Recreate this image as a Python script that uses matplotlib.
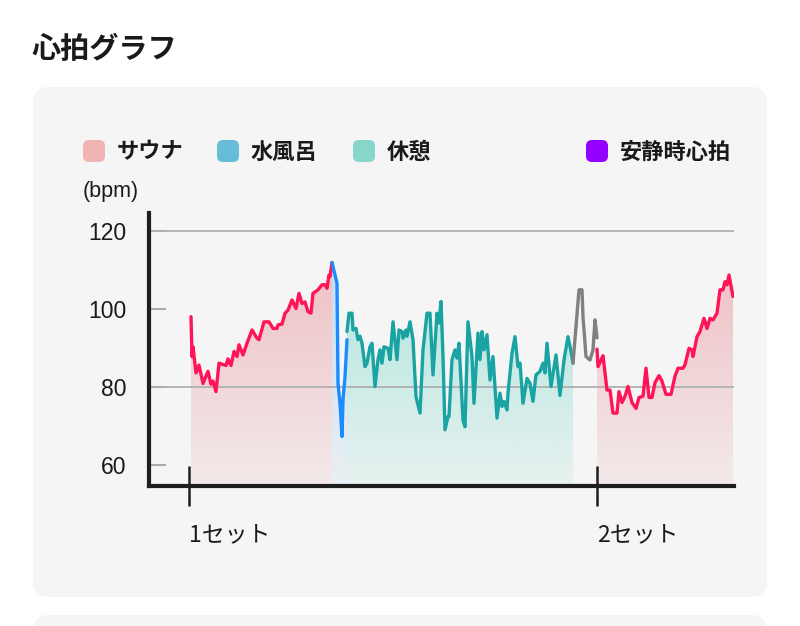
"""Heart-rate chart (sauna / cold bath / rest) recreated with matplotlib."""

import matplotlib.pyplot as plt
import numpy as np
from matplotlib.colors import to_rgb
from matplotlib.patches import FancyBboxPatch, Polygon
from matplotlib.transforms import IdentityTransform

W, H = 800, 626

# time (arbitrary units, set 1 starts at 0) and bpm per phase
sauna1_t = [0.2, 0.3, 0.4, 0.7, 1.0, 1.4, 1.9, 2.2, 2.4, 2.7, 3.0, 3.7, 3.9, 4.2, 4.5,
            4.8, 5.0, 5.4, 5.8, 6.3, 6.8, 7.0, 7.5, 8.0, 8.4, 8.8, 8.9, 9.3, 9.6, 9.9,
            10.3, 10.7, 11.0, 11.3, 11.6, 11.9, 12.2, 12.4, 12.9, 13.3, 13.6, 13.8,
            14.0, 14.1, 14.3]
sauna1_bpm = [98.0, 87.8, 90.3, 83.6, 85.6, 80.9, 84.0, 80.7, 81.5, 78.8, 86.1, 85.5,
              87.2, 85.5, 89.1, 87.8, 90.8, 88.2, 91.2, 94.6, 92.5, 92.1, 96.7, 96.7,
              95.0, 95.0, 95.9, 96.1, 98.9, 99.7, 102.3, 100.1, 104.0, 101.4, 101.8,
              99.3, 98.9, 104.0, 104.9, 106.2, 106.2, 105.3, 108.7, 108.3, 111.9]

cold_t = [14.3, 14.8, 14.9, 15.1, 15.3, 15.4, 15.6, 15.8]
cold_bpm = [111.9, 106.6, 80.9, 75.8, 67.3, 76.7, 82.6, 92.1]

rest_t = [15.8, 16.0, 16.3, 16.4, 16.7, 16.9, 17.1, 17.3, 17.6, 17.8, 18.1, 18.3, 18.6,
          18.9, 19.1, 19.3, 19.5, 19.9, 20.1, 20.4, 20.8, 21.0, 21.3, 21.4, 21.7, 21.8,
          22.1, 22.4, 22.7, 23.1, 23.4, 23.8, 24.1, 24.4, 24.8, 25.0, 25.2, 25.4, 25.6,
          25.9, 26.0, 26.3, 26.6, 26.8, 27.0, 27.4, 27.6, 27.9, 28.3, 28.5, 28.9, 29.1,
          29.3, 29.5, 29.8, 30.1, 30.4, 30.8, 31.1, 31.3, 31.5, 31.8, 31.9, 32.3, 32.6,
          32.9, 33.1, 33.4, 33.8, 34.1, 34.4, 34.7, 35.1, 35.4, 35.6, 35.8, 36.2, 36.7,
          37.1, 37.5, 37.9, 38.2, 38.4]
rest_bpm = [94.2, 98.9, 98.9, 94.6, 95.0, 92.1, 93.0, 91.2, 85.2, 86.1, 90.3, 91.2, 80.1,
            87.0, 89.5, 86.1, 90.3, 89.9, 87.0, 96.7, 87.0, 94.6, 94.2, 92.5, 94.6, 93.0,
            96.7, 92.1, 77.5, 73.3, 89.5, 98.9, 98.9, 83.1, 98.9, 96.4, 101.9, 87.8, 69.0,
            72.4, 72.4, 87.0, 89.5, 87.4, 91.2, 71.5, 69.8, 96.7, 87.8, 75.8, 93.8, 87.0,
            94.2, 89.5, 93.4, 81.8, 87.8, 72.0, 78.4, 75.0, 76.3, 74.1, 78.4, 88.6, 92.9,
            85.2, 86.1, 75.8, 82.2, 80.9, 76.3, 83.1, 84.0, 86.1, 83.6, 91.2, 80.1, 88.2,
            77.8, 86.9, 92.9, 89.1, 86.1]

other_t = [38.4, 39.0, 39.3, 39.4, 39.7, 40.1, 40.4, 40.6, 40.8]
other_bpm = [86.1, 104.9, 104.9, 98.0, 87.8, 86.9, 89.5, 97.2, 92.6]

sauna2_t = [40.8, 40.9, 41.2, 41.4, 41.8, 42.1, 42.4, 42.8, 43.0, 43.3, 43.6, 43.9, 44.3,
            44.7, 45.0, 45.4, 45.7, 46.0, 46.3, 46.6, 47.0, 47.3, 47.7, 48.2, 48.6, 48.9,
            49.4, 49.6, 50.0, 50.3, 50.4, 50.8, 51.1, 51.5, 51.8, 52.1, 52.4, 52.8, 53.1,
            53.4, 53.6, 53.8, 54.0, 54.4]
sauna2_bpm = [89.7, 85.2, 86.9, 88.0, 79.2, 79.2, 73.3, 73.3, 78.8, 76.0, 77.6, 80.1,
              76.0, 74.5, 77.3, 77.6, 84.8, 77.3, 77.3, 81.1, 82.9, 81.5, 78.1, 78.1,
              82.8, 84.8, 84.8, 85.7, 89.9, 89.5, 87.8, 92.9, 94.2, 97.6, 95.0, 97.6,
              97.2, 98.9, 104.9, 104.9, 107.0, 106.2, 108.7, 103.2]

set_ticks = [0.0, 40.8]
set_labels = ["1セット", "2セット"]
y_ticks = [60, 80, 100, 120]
grid_levels = [80, 120]
legend_labels = ["サウナ", "水風呂", "休憩", "安静時心拍"]
legend_colors = ["#f0b4b4", "#67bcd8", "#86d6cc", "#9400ff"]

JP = ["Noto Sans CJK JP", "DejaVu Sans"]
NUM = ["Liberation Sans", "DejaVu Sans"]
YMIN, YMAX = 54.6, 124.6
XMIN, XMAX = -4.0, 54.5


def fx(x):
    return x / W


def fy(y):
    return 1 - y / H


def gradient_fill(ax, t, v, color, top_alpha, bottom_alpha):
    verts = list(zip(t, v)) + [(t[-1], YMIN), (t[0], YMIN)]
    clip = Polygon(verts, closed=True, transform=ax.transData)
    rgba = np.zeros((256, 1, 4))
    rgba[..., :3] = to_rgb(color)
    rgba[:, 0, 3] = np.linspace(bottom_alpha, top_alpha, 256)
    im = ax.imshow(rgba, extent=[t[0], t[-1], YMIN, YMAX], origin="lower",
                   aspect="auto", interpolation="bilinear", zorder=1)
    im.set_clip_path(clip)


def rounded(x, y, w, h, r, color):
    # pixel box measured from the top-left of the figure
    return FancyBboxPatch((x, H - y - h), w, h,
                          boxstyle=f"round,pad=0,rounding_size={r}",
                          transform=IdentityTransform(), facecolor=color,
                          edgecolor="none", zorder=0)


fig = plt.figure(figsize=(W / 100, H / 100), dpi=100, facecolor="white")
fig.add_artist(rounded(33, 87, 734, 510, 16, "#f5f5f5"))
fig.add_artist(rounded(33, 615, 734, 40, 16, "#f5f5f5"))

fig.text(fx(32), fy(49), "心拍グラフ", fontsize=21, fontweight="bold",
         family=JP, va="center", ha="left", color="#1a1a1a")

sq_x = [83, 217, 353, 586]
txt_x = [117, 251, 387, 620]
for sx, tx, lab, col in zip(sq_x, txt_x, legend_labels, legend_colors):
    fig.add_artist(rounded(sx, 140, 22, 22, 6, col))
    fig.text(fx(tx), fy(152), lab, fontsize=16, fontweight="semibold", family=JP,
             va="center", ha="left", color="#1a1a1a")

fig.text(fx(83), fy(192), "(bpm)", fontsize=15.5, family=NUM, va="center",
         ha="left", color="#1a1a1a")

ax = fig.add_axes([149 / W, 1 - 486 / H, (734 - 149) / W, (486 - 213) / H])
ax.patch.set_visible(False)

gradient_fill(ax, sauna1_t, sauna1_bpm, "#e46a74", 0.45, 0.08)
gradient_fill(ax, cold_t, cold_bpm, "#6ab0ea", 0.4, 0.08)
gradient_fill(ax, rest_t, rest_bpm, "#38c8b2", 0.45, 0.07)
gradient_fill(ax, sauna2_t, sauna2_bpm, "#e46a74", 0.45, 0.08)

for lvl in grid_levels:
    ax.axhline(lvl, color="#b0b0b0", lw=1.3, zorder=2)

line_kw = dict(lw=2.4, solid_joinstyle="round", solid_capstyle="round", zorder=3)
ax.plot(sauna1_t, sauna1_bpm, color="#ff1458", **line_kw)
ax.plot(cold_t, cold_bpm, color="#1a8cff", **line_kw)
ax.plot(rest_t, rest_bpm, color="#1aa3a3", **line_kw)
ax.plot(other_t, other_bpm, color="#808080", **line_kw)
ax.plot(sauna2_t, sauna2_bpm, color="#ff1458", **line_kw)

ax.set_xlim(XMIN, XMAX)
ax.set_ylim(YMIN, YMAX)

for side in ("top", "right"):
    ax.spines[side].set_visible(False)
for side in ("left", "bottom"):
    ax.spines[side].set_linewidth(3)
    ax.spines[side].set_color("#1e1e1e")

ax.set_yticks(y_ticks)
ax.tick_params(axis="y", direction="in", length=12, width=1.5, color="#aaaaaa",
               pad=16, labelsize=16.5, labelcolor="#1a1a1a")
for lbl in ax.get_yticklabels():
    lbl.set_fontfamily(NUM)

ax.set_xticks(set_ticks, set_labels)
ax.tick_params(axis="x", direction="inout", length=29, width=1.8, color="#1e1e1e",
               pad=12, labelsize=16.5, labelcolor="#1a1a1a")
for lbl in ax.get_xticklabels():
    lbl.set_fontfamily(JP)
    lbl.set_horizontalalignment("left")

fig.savefig("out.png", dpi=100)
